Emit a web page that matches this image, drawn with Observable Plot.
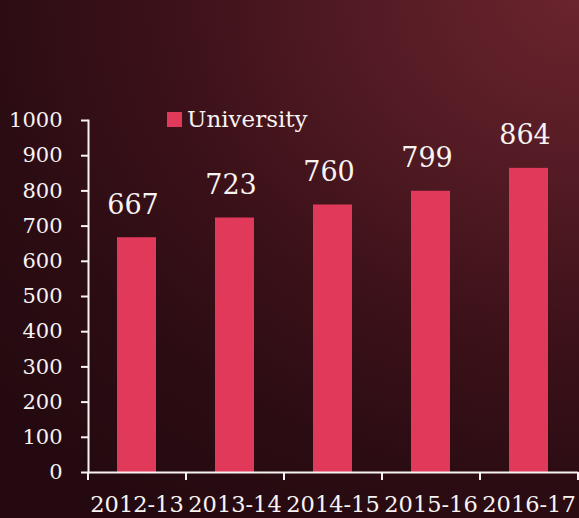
<!DOCTYPE html>
<html><head><meta charset="utf-8">
<script src="https://cdn.jsdelivr.net/npm/d3@7"></script>
<script src="https://cdn.jsdelivr.net/npm/@observablehq/plot@0.6"></script>
<style>
html,body{margin:0;padding:0;}
body{width:579px;height:518px;overflow:hidden;
 background: radial-gradient(ellipse 130% 120% at 100% 0%, #6a242d 0%, #541b24 28%, #3c1119 55%, #2c0c13 78%, #240a10 100%);}
#wrap{position:relative;width:579px;height:518px;}
#legend{position:absolute;left:167px;top:106px;display:flex;align-items:center;color:#f8f3f3;font:23px "DejaVu Serif",serif;}
#legend .sw{width:15px;height:15px;margin-right:5px;}
</style></head><body><div id="wrap"><div id="legend"></div></div>
<script>
const categories = ["2012-13", "2013-14", "2014-15", "2015-16", "2016-17"];
const university = [667, 723, 760, 799, 864];
const yTicks = [0, 100, 200, 300, 400, 500, 600, 700, 800, 900, 1000];
const seriesName = "University";
const barColor = "#e1395a";

const data = categories.map((c, i) => ({year: c, value: university[i]}));

const W = 579, H = 518, mL = 88, mR = 1, mT = 120, mB = 46;
const half = (W - mL - mR) / categories.length / 2;

const chart = Plot.plot({
  width: W, height: H,
  marginLeft: mL, marginRight: mR, marginTop: mT, marginBottom: mB,
  style: {background: "transparent", color: "#f8f3f3", fontFamily: "'DejaVu Serif', serif", fontSize: "21px", overflow: "visible"},
  x: {domain: categories, paddingInner: 0.6, paddingOuter: 0.3, label: null},
  y: {domain: [0, 1000], label: null},
  marks: [
    Plot.barY(data, {x: "year", y: "value", fill: barColor}),
    Plot.text(data, {x: "year", y: "value", text: d => String(d.value), lineAnchor: "bottom", dy: -24, dx: -4, fill: "#f8f3f3", fontSize: 27, fontFamily: "'DejaVu Serif', serif"}),
    Plot.axisY({ticks: yTicks, tickSize: 7, tickPadding: 19, tickFormat: d => String(d), strokeWidth: 2, fontSize: 21}),
    Plot.axisX({tickSize: 0, tickPadding: 24, fontSize: 22.5}),
    Plot.axisX(categories, {tickSize: 8, text: null, dx: -half, strokeWidth: 2}),
    Plot.axisX(categories.slice(-1), {tickSize: 8, text: null, dx: half, strokeWidth: 2}),
    Plot.frame({anchor: "left", stroke: "#f8f3f3", strokeWidth: 2}),
    Plot.ruleY([0], {stroke: "#f8f3f3", strokeWidth: 2})
  ]
});
document.getElementById("wrap").appendChild(chart);

const lg = document.getElementById("legend");
const sw = document.createElement("span"); sw.className = "sw"; sw.style.background = barColor;
const tx = document.createElement("span"); tx.textContent = seriesName;
lg.appendChild(sw); lg.appendChild(tx);
</script>
</body></html>
